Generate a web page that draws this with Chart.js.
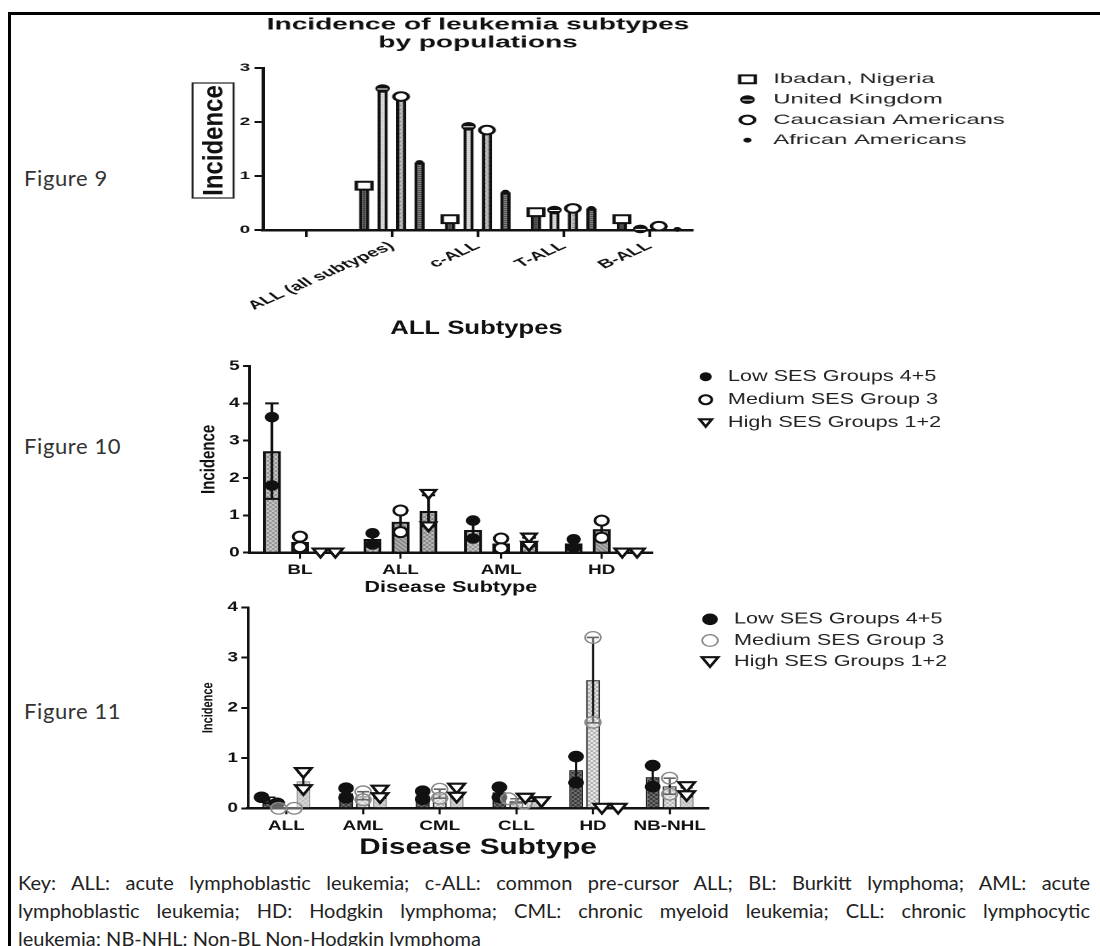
<!DOCTYPE html>
<html>
<head>
<meta charset="utf-8">
<title>Leukemia subtypes – figures 9 to 11</title>
<script src="https://cdn.jsdelivr.net/npm/chart.js@4.4.1/dist/chart.umd.min.js"></script>
<style>
    html, body { margin: 0; padding: 0; background: #fff; }
    body { width: 1100px; height: 946px; position: relative; overflow: hidden; font-family: Lato, 'Open Sans', sans-serif; }
    .frame { position: absolute; left: 8px; top: 12px; width: 1200px; height: 1000px; border-left: 3px solid #000; border-top: 3px solid #000; }
    .fig-label { position: absolute; left: 24px; font-size: 22px; letter-spacing: 0.6px; color: #333; transform: translateY(-50%); }
    .panel { position: absolute; left: 180px; transform-origin: 0 0; }
    .panel canvas { display: block; }
    .key { position: absolute; left: 18px; width: 1072px; top: 868px; font-size: 20px; color: #222; line-height: 28px; }
    .key div { text-align: justify; text-align-last: justify; white-space: nowrap; }
    .key div.last { text-align-last: left; }
</style>
</head>
<body>
<div class="frame"></div>

<div class="fig-label" style="top:177px">Figure 9</div>
<div class="fig-label" style="top:445px">Figure 10</div>
<div class="fig-label" style="top:710px">Figure 11</div>

<!-- the source panels are stretched sideways, so each canvas is widened the same way -->
<div class="panel" style="top:0; transform:scaleX(1.7)"><canvas id="fig9" width="500" height="310"></canvas></div>
<div class="panel" style="top:300px; transform:scaleX(1.35)"><canvas id="fig10" width="580" height="300"></canvas></div>
<div class="panel" style="top:590px; transform:scaleX(1.35)"><canvas id="fig11" width="580" height="276"></canvas></div>

<div class="key">
    <div>Key: ALL: acute lymphoblastic leukemia; c-ALL: common pre-cursor ALL; BL: Burkitt lymphoma; AML: acute</div>
    <div>lymphoblastic leukemia; HD: Hodgkin lymphoma; CML: chronic myeloid leukemia; CLL: chronic lymphocytic</div>
    <div class="last">leukemia; NB-NHL: Non-BL Non-Hodgkin lymphoma</div>
</div>

<script>
// ---- Figure 9: incidence by population ----
const fig9Labels = ['', 'ALL (all subtypes)', 'c-ALL', 'T-ALL', 'B-ALL'];
const fig9Series = ['Ibadan, Nigeria', 'United Kingdom', 'Caucasian Americans', 'African Americans'];
const ibadanValues = [null, 0.82, 0.20, 0.33, 0.20];
const ukValues = [null, 2.62, 1.92, 0.37, 0.02];
const caucasianValues = [null, 2.47, 1.85, 0.40, 0.07];
const africanValues = [null, 1.25, 0.70, 0.40, 0.01];
const fig9Ticks = [0, 1, 2, 3];

// ---- Figure 10: ALL subtypes by SES (bar = mean, dots = observations, whisker = SD) ----
const sesSeries = ['Low SES Groups 4+5', 'Medium SES Group 3', 'High SES Groups 1+2'];
const fig10Labels = ['BL', 'ALL', 'AML', 'HD'];
const fig10LowMean = [2.72, 0.37, 0.61, 0.25];
const fig10LowErr = [1.28, 0.15, 0.25, 0.12];
const fig10LowPoints = [[3.63, 1.80], [0.52, 0.22], [0.86, 0.38], [0.36, 0.14]];
const fig10MedMean = [0.29, 0.83, 0.25, 0.63];
const fig10MedErr = [0.15, 0.37, 0.13, 0.24];
const fig10MedPoints = [[0.43, 0.15], [1.13, 0.55], [0.38, 0.12], [0.86, 0.40]];
const fig10HighMean = [0, 1.12, 0.29, 0];
const fig10HighErr = [0, 0.42, 0.11, 0];
const fig10HighPoints = [[0, 0], [1.57, 0.70], [0.40, 0.18], [0, 0]];
const fig10Ticks = [0, 1, 2, 3, 4, 5];

// ---- Figure 11: disease subtypes by SES ----
const fig11Labels = ['ALL', 'AML', 'CML', 'CLL', 'HD', 'NB-NHL'];
const fig11LowMean = [0.16, 0.30, 0.26, 0.32, 0.76, 0.62];
const fig11LowErr = [0.06, 0.10, 0.08, 0.10, 0.27, 0.23];
const fig11LowPoints = [[0.22, 0.10], [0.40, 0.21], [0.34, 0.18], [0.42, 0.22], [1.03, 0.51], [0.85, 0.43]];
const fig11MedMean = [0, 0.25, 0.29, 0.15, 2.55, 0.44];
const fig11MedErr = [0, 0.08, 0.09, 0.04, 0.85, 0.16];
const fig11MedPoints = [[0, 0], [0.33, 0.17], [0.38, 0.20], [0.19, 0.10], [3.40, 1.71], [0.60, 0.28]];
const fig11HighMean = [0.54, 0.28, 0.31, 0.17, 0, 0.32];
const fig11HighErr = [0.17, 0.08, 0.09, 0.03, 0, 0.09];
const fig11HighPoints = [[0.71, 0.37], [0.36, 0.21], [0.40, 0.22], [0.20, 0.13], [0, 0], [0.43, 0.25]];
const fig11Ticks = [0, 1, 2, 3, 4];

Chart.defaults.font.family = "'Liberation Sans', Arial, sans-serif";
Chart.defaults.color = '#111';
Chart.defaults.animation = false;

const fillTile = (ctx, bg, fg, kind) => {
    const c = document.createElement('canvas');
    c.width = c.height = 4;
    const g = c.getContext('2d');
    g.fillStyle = bg;
    g.fillRect(0, 0, 4, 4);
    g.fillStyle = fg;
    if (kind === 'check') { g.fillRect(0, 0, 2, 2); g.fillRect(2, 2, 2, 2); }
    if (kind === 'dots') { g.fillRect(1, 1, 1, 1); g.fillRect(3, 3, 1, 1); }
    if (kind === 'rows') { g.fillRect(0, 0, 4, 1); g.fillRect(0, 2, 4, 1); }
    if (kind === 'diag') { for (let i = 0; i < 4; i++) g.fillRect(i, i, 1, 1); }
    return ctx.createPattern(c, 'repeat');
};

const drawMarker = (ctx, kind, x, y, r) => {
    ctx.save();
    ctx.strokeStyle = '#111';
    ctx.fillStyle = '#fff';
    ctx.beginPath();
    switch (kind) {
        case 'square':
            ctx.rect(x - r, y - r * 0.85, r * 2, r * 1.7);
            ctx.fill();
            ctx.lineWidth = 2;
            ctx.stroke();
            break;
        case 'half':
            ctx.arc(x, y, r, 0, Math.PI * 2);
            ctx.fillStyle = '#111';
            ctx.fill();
            ctx.fillStyle = '#fff';
            ctx.fillRect(x - r * 0.7, y, r * 1.4, 1);
            break;
        case 'ring':
            ctx.arc(x, y, r, 0, Math.PI * 2);
            ctx.fill();
            ctx.lineWidth = 2;
            ctx.stroke();
            break;
        case 'dot':
        case 'disc':
            ctx.arc(x, y, r, 0, Math.PI * 2);
            ctx.fillStyle = '#111';
            ctx.fill();
            break;
        case 'greyRing':
            ctx.arc(x, y, r, 0, Math.PI * 2);
            ctx.fillStyle = 'rgba(255,255,255,0.35)';
            ctx.fill();
            ctx.strokeStyle = '#888';
            ctx.lineWidth = 1.3;
            ctx.stroke();
            break;
        case 'triangle':
            ctx.moveTo(x - r, y - r * 0.75);
            ctx.lineTo(x + r, y - r * 0.75);
            ctx.lineTo(x, y + r * 0.85);
            ctx.closePath();
            ctx.fill();
            ctx.lineWidth = 2.2;
            ctx.lineJoin = 'miter';
            ctx.stroke();
            break;
    }
    ctx.restore();
};

// dots, whiskers, legend and the boxed axis label, all placed from the chart's own scales
const marksPlugin = {
    id: 'marks',
    afterDatasetsDraw(chart, args, opts) {
        const ctx = chart.ctx;
        const yScale = chart.scales.y;
        chart.data.datasets.forEach((ds, i) => {
            chart.getDatasetMeta(i).data.forEach((bar, j) => {
                const mean = ds.data[j];
                if (mean == null) return;
                const err = ds.errors ? ds.errors[j] : 0;
                if (err) {
                    const top = yScale.getPixelForValue(mean + err);
                    const bottom = yScale.getPixelForValue(Math.max(mean - err, 0));
                    ctx.save();
                    ctx.strokeStyle = '#111';
                    ctx.lineWidth = opts.errorWidth;
                    ctx.beginPath();
                    ctx.moveTo(bar.x, top); ctx.lineTo(bar.x, bottom);
                    ctx.moveTo(bar.x - opts.cap, top); ctx.lineTo(bar.x + opts.cap, top);
                    ctx.moveTo(bar.x - opts.cap, bottom); ctx.lineTo(bar.x + opts.cap, bottom);
                    ctx.stroke();
                    ctx.restore();
                }
                const values = ds.points ? ds.points[j] : [mean];
                const pys = values.map(v => yScale.getPixelForValue(v));
                const crowded = pys.length === 2 && Math.abs(pys[0] - pys[1]) < ds.markerSize * 1.2;
                pys.forEach((py, k) => {
                    const dx = crowded ? (k ? 1 : -1) * ds.markerSize : 0;
                    drawMarker(ctx, ds.marker, bar.x + dx, py, ds.markerSize);
                });
            });
        });
    },
    afterDraw(chart, args, opts) {
        const ctx = chart.ctx;
        const lg = opts.legend;
        chart.data.datasets.forEach((ds, i) => {
            const y = lg.y + i * lg.step;
            drawMarker(ctx, ds.marker, lg.x, y, lg.markerSize || ds.markerSize);
            ctx.save();
            ctx.fillStyle = '#222';
            ctx.font = `${lg.font}px 'Liberation Sans', Arial, sans-serif`;
            ctx.textBaseline = 'middle';
            ctx.fillText(ds.label, lg.textX, y);
            ctx.restore();
        });
        const b = opts.boxLabel;
        if (b) {
            ctx.save();
            ctx.strokeStyle = '#222';
            ctx.lineWidth = 1.2;
            ctx.strokeRect(b.x0, b.y0, b.x1 - b.x0, b.y1 - b.y0);
            ctx.translate((b.x0 + b.x1) / 2, (b.y0 + b.y1) / 2);
            ctx.rotate(-Math.PI / 2);
            ctx.scale(1, b.squeeze);
            ctx.font = `bold ${b.font}px 'Liberation Sans', Arial, sans-serif`;
            ctx.fillStyle = '#111';
            ctx.textAlign = 'center';
            ctx.textBaseline = 'middle';
            ctx.fillText(b.text, 0, 1);
            ctx.restore();
        }
    }
};

const axisX = (tickLength, padding, fontSize, height, rotation, title) => ({
    offset: true,
    grid: { drawOnChartArea: false, drawTicks: true, tickLength, offset: false, color: '#111', lineWidth: 1.6 },
    border: { color: '#111', width: 2.5 },
    ticks: { autoSkip: false, padding, color: '#111', minRotation: rotation, maxRotation: rotation, font: { size: fontSize, weight: 'bold' } },
    title: title || { display: false },
    afterFit: s => { s.height = height; }
});

const axisY = (max, tickValues, fontSize, width, title) => ({
    min: 0,
    max,
    grid: { drawOnChartArea: false, drawTicks: true, tickLength: 5, color: '#111', lineWidth: 2 },
    border: { color: '#111', width: 2 },
    ticks: { padding: 2.5, color: '#111', font: { size: fontSize, weight: 'bold' } },
    afterBuildTicks: s => { s.ticks = tickValues.map(value => ({ value })); },
    title: title || { display: false },
    afterFit: s => { s.width = width; }
});

const gapAxis = width => ({
    type: 'linear',
    axis: 'y',
    position: 'right',
    grid: { display: false },
    ticks: { display: false },
    border: { display: false },
    afterFit: s => { s.width = width; }
});

// ---- Figure 9 ----
const ctx9 = document.getElementById('fig9').getContext('2d');
new Chart(ctx9, {
    type: 'bar',
    data: {
        labels: fig9Labels,
        datasets: [
            { label: fig9Series[0], data: ibadanValues, backgroundColor: fillTile(ctx9, '#5a5a5a', '#3a3a3a', 'rows'), marker: 'square', markerSize: 4.6 },
            { label: fig9Series[1], data: ukValues, backgroundColor: fillTile(ctx9, '#e4e4e4', '#c8c8c8', 'rows'), marker: 'half', markerSize: 4.3 },
            { label: fig9Series[2], data: caucasianValues, backgroundColor: fillTile(ctx9, '#bdbdbd', '#6a6a6a', 'dots'), marker: 'ring', markerSize: 4.3 },
            { label: fig9Series[3], data: africanValues, backgroundColor: fillTile(ctx9, '#9a9a9a', '#3c3c3c', 'rows'), marker: 'dot', markerSize: 2.4 }
        ]
    },
    options: {
        responsive: false,
        devicePixelRatio: 2,
        layout: { padding: { left: 0, right: 149.4, top: 0, bottom: 0 } },
        datasets: { bar: { categoryPercentage: 0.86, barPercentage: 0.56, borderColor: '#111', borderWidth: 2 } },
        plugins: {
            legend: { display: false },
            tooltip: { enabled: false },
            title: {
                display: true,
                text: ['Incidence of leukemia subtypes', 'by populations'],
                color: '#111',
                font: { size: 16.5, weight: 'bold', lineHeight: 1.09 },
                padding: { top: 16, bottom: 16 }
            },
            marks: {
                legend: { x: 333.8, textX: 349, y: 79.3, step: 20.3, font: 14 },
                boxLabel: { text: 'Incidence', x0: 7.4, x1: 31.5, y0: 83, y1: 198, font: 24, squeeze: 0.71 }
            }
        },
        scales: {
            x: axisX(7, 2, 12, 80, 37),
            y: axisY(3, fig9Ticks, 11, 48.8),
            gap: gapAxis(49.1)
        }
    },
    plugins: [marksPlugin]
});

// ---- Figure 10 ----
const ctx10 = document.getElementById('fig10').getContext('2d');
new Chart(ctx10, {
    type: 'bar',
    data: {
        labels: fig10Labels,
        datasets: [
            { label: sesSeries[0], data: fig10LowMean, errors: fig10LowErr, points: fig10LowPoints, backgroundColor: fillTile(ctx10, '#d0d0d0', '#8c8c8c', 'check'), marker: 'disc', markerSize: 5.3 },
            { label: sesSeries[1], data: fig10MedMean, errors: fig10MedErr, points: fig10MedPoints, backgroundColor: fillTile(ctx10, '#b0b0b0', '#5e5e5e', 'diag'), marker: 'ring', markerSize: 5 },
            { label: sesSeries[2], data: fig10HighMean, errors: fig10HighErr, points: fig10HighPoints, backgroundColor: fillTile(ctx10, '#c4c4c4', '#7e7e7e', 'check'), marker: 'triangle', markerSize: 5.5 }
        ]
    },
    options: {
        responsive: false,
        devicePixelRatio: 2,
        layout: { padding: { left: 0, right: 140.8, top: 0, bottom: 0 } },
        datasets: { bar: { categoryPercentage: 0.835, barPercentage: 0.64, borderColor: '#111', borderWidth: 2.2 } },
        plugins: {
            legend: { display: false },
            tooltip: { enabled: false },
            title: {
                display: true,
                text: 'ALL Subtypes',
                color: '#111',
                font: { size: 19, weight: 'bold', lineHeight: 1.2 },
                padding: { top: 17.6, bottom: 25.6 }
            },
            marks: {
                errorWidth: 2,
                cap: 5,
                legend: { x: 389.4, textX: 405.9, y: 76.7, step: 23, font: 16, markerSize: 4.5 }
            }
        },
        scales: {
            x: axisX(6, 3, 14, 47.3, 0, {
                display: true, text: 'Disease Subtype', color: '#111', font: { size: 16, weight: 'bold', lineHeight: 1.2 }, padding: { top: 0, bottom: 2.7 }
            }),
            y: axisY(5, fig10Ticks, 14, 51.6, {
                display: true, text: 'Incidence', color: '#111', font: { size: 15, weight: 'bold', lineHeight: 1.2 }, padding: { top: 12.2, bottom: 0 }
            }),
            gap: gapAxis(89.6)
        }
    },
    plugins: [marksPlugin]
});

// ---- Figure 11 ----
const ctx11 = document.getElementById('fig11').getContext('2d');
new Chart(ctx11, {
    type: 'bar',
    data: {
        labels: fig11Labels,
        datasets: [
            { label: sesSeries[0], data: fig11LowMean, errors: fig11LowErr, points: fig11LowPoints, backgroundColor: fillTile(ctx11, '#7a7a7a', '#303030', 'check'), borderColor: '#222', marker: 'disc', markerSize: 5.8 },
            { label: sesSeries[1], data: fig11MedMean, errors: fig11MedErr, points: fig11MedPoints, backgroundColor: fillTile(ctx11, '#f0f0f0', '#a8a8a8', 'check'), borderColor: '#333', marker: 'greyRing', markerSize: 5.8 },
            { label: sesSeries[2], data: fig11HighMean, errors: fig11HighErr, points: fig11HighPoints, backgroundColor: fillTile(ctx11, '#dadada', '#bdbdbd', 'check'), borderColor: '#999', marker: 'triangle', markerSize: 6 }
        ]
    },
    options: {
        responsive: false,
        devicePixelRatio: 2,
        layout: { padding: { left: 0, right: 188.9, top: 17.3, bottom: 0 } },
        datasets: { bar: { categoryPercentage: 0.665, barPercentage: 0.82, borderWidth: 1.2 } },
        plugins: {
            legend: { display: false },
            tooltip: { enabled: false },
            marks: {
                errorWidth: 1.6,
                cap: 4.5,
                legend: { x: 392.6, textX: 410.4, y: 29.3, step: 21.2, font: 16 }
            }
        },
        scales: {
            x: axisX(6, 3.3, 14, 57.7, 0, {
                display: true, text: 'Disease Subtype', color: '#111', font: { size: 22, weight: 'bold', lineHeight: 1.2 }, padding: { top: 0, bottom: 4.8 }
            }),
            y: axisY(4, fig11Ticks, 14, 50.4, {
                display: true, text: 'Incidence', color: '#111', font: { size: 11, weight: 'bold', lineHeight: 1.2 }, padding: { top: 14.6, bottom: 0 }
            })
        }
    },
    plugins: [marksPlugin]
});
</script>
</body>
</html>
